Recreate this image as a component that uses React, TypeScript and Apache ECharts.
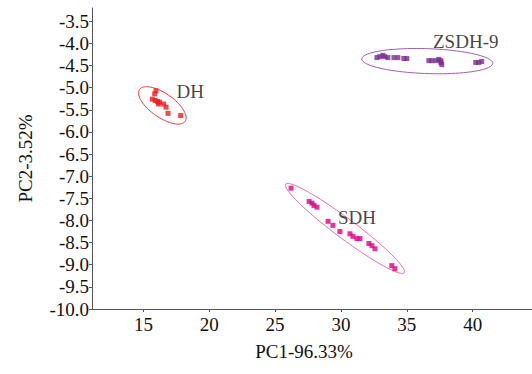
import React, { useEffect, useRef } from "react";
import * as echarts from "echarts";

// PCA scores
const DH_X = [15.96, 15.86, 15.68, 15.89, 16.08, 16.23, 16.14, 16.54, 16.72, 16.87, 17.83];
const DH_Y = [-5.07, -5.14, -5.26, -5.29, -5.31, -5.33, -5.37, -5.37, -5.44, -5.58, -5.63];

const SDH_X = [26.21, 27.58, 27.8, 27.95, 28.18, 29.02, 29.39, 29.92, 30.68, 30.91, 31.21, 31.44, 32.12, 32.35, 32.58, 33.86, 34.09];
const SDH_Y = [-7.27, -7.57, -7.61, -7.66, -7.7, -8.02, -8.11, -8.25, -8.3, -8.36, -8.41, -8.41, -8.52, -8.57, -8.64, -9.02, -9.09];

const ZSDH_X = [32.73, 32.95, 33.18, 33.33, 33.56, 34.02, 34.32, 34.77, 35.0, 36.67, 36.89, 37.2, 37.42, 37.58, 37.58, 37.65, 40.23, 40.45, 40.68];
const ZSDH_Y = [-4.32, -4.3, -4.27, -4.3, -4.32, -4.32, -4.32, -4.34, -4.34, -4.39, -4.39, -4.39, -4.36, -4.39, -4.43, -4.48, -4.43, -4.43, -4.41];

// group ellipses: center x, center y, end of major semi-axis x, y, minor/major ratio
const DH_ELLIPSE = [16.44, -5.4, 18.17, -5.76, 0.43];
const SDH_ELLIPSE = [30.3, -8.18, 34.8, -9.18, 0.135];
const ZSDH_ELLIPSE = [36.55, -4.4, 41.52, -4.45, 0.19];

const GROUP_NAMES = ["DH", "SDH", "ZSDH-9"];
const LABEL_X = [18.56, 31.21, 39.47];
const LABEL_Y = [-5.09, -7.93, -3.95];

const X_TICKS = [15, 20, 25, 30, 35, 40];
const Y_TICKS = [-10, -9.5, -9, -8.5, -8, -7.5, -7, -6.5, -6, -5.5, -5, -4.5, -4, -3.5];

const FONT = "'Liberation Serif', 'Times New Roman', serif";

const zip = (xs: number[], ys: number[]) => xs.map((x, i) => [x, ys[i]]);

function ellipseSeries(e: number[], color: string) {
  return {
    type: "custom",
    silent: true,
    z: 1,
    encode: { x: [0, 2], y: [1, 3] },
    data: [e],
    renderItem: (_p: any, api: any) => {
      const c = api.coord([api.value(0), api.value(1)]);
      const en = api.coord([api.value(2), api.value(3)]);
      const ratio = api.value(4);
      const dx = en[0] - c[0];
      const dy = en[1] - c[1];
      const a = Math.hypot(dx, dy);
      const ux = dx / a;
      const uy = dy / a;
      const b = a * ratio;
      const pts: number[][] = [];
      const n = 90;
      for (let i = 0; i < n; i++) {
        const t = (i / n) * Math.PI * 2;
        const ca = Math.cos(t) * a;
        const sb = Math.sin(t) * b;
        pts.push([c[0] + ux * ca - uy * sb, c[1] + uy * ca + ux * sb]);
      }
      return {
        type: "polygon",
        shape: { points: pts },
        style: { fill: "none", stroke: color, lineWidth: 1 },
      };
    },
  };
}

function pointSeries(xs: number[], ys: number[], color: string) {
  return {
    type: "scatter",
    symbol: "rect",
    symbolSize: 5,
    z: 3,
    itemStyle: { color },
    data: zip(xs, ys),
  };
}

export default function App() {
  const ref = useRef<HTMLDivElement>(null);
  useEffect(() => {
    if (!ref.current) return;
    const chart = echarts.init(ref.current, null, { renderer: "svg" });
    chart.setOption({
      animation: false,
      backgroundColor: "#ffffff",
      grid: { left: 92, right: 0, top: 8, bottom: 65 },
      xAxis: {
        type: "value",
        min: 11.1,
        max: 44.5,
        name: "PC1-96.33%",
        nameLocation: "middle",
        nameGap: 33,
        nameTextStyle: { fontFamily: FONT, fontSize: 19, color: "#111", padding: [0, 16, 0, 0] },
        splitLine: { show: false },
        axisLine: { lineStyle: { color: "#555", width: 1 } },
        axisTick: { customValues: X_TICKS, length: 3, lineStyle: { color: "#555" } },
        axisLabel: {
          customValues: X_TICKS,
          margin: 6,
          fontFamily: FONT,
          fontSize: 19,
          color: "#111",
        },
      },
      yAxis: {
        type: "value",
        min: -10,
        max: -3.2,
        name: "PC2-3.52%",
        nameLocation: "middle",
        nameGap: 57,
        nameTextStyle: { fontFamily: FONT, fontSize: 19, color: "#111" },
        splitLine: { show: false },
        axisLine: { show: true, lineStyle: { color: "#555", width: 1 } },
        axisTick: { show: true, customValues: Y_TICKS, length: 3, lineStyle: { color: "#555" } },
        axisLabel: {
          customValues: Y_TICKS,
          margin: 3,
          fontFamily: FONT,
          fontSize: 19,
          color: "#111",
          formatter: (v: number) => v.toFixed(1),
        },
      },
      series: [
        ellipseSeries(DH_ELLIPSE, "#f0393c"),
        ellipseSeries(SDH_ELLIPSE, "#ea6fb4"),
        ellipseSeries(ZSDH_ELLIPSE, "#a45cb4"),
        pointSeries(DH_X, DH_Y, "#ee1c25"),
        pointSeries(SDH_X, SDH_Y, "#e4007f"),
        pointSeries(ZSDH_X, ZSDH_Y, "#7a2b8f"),
        {
          type: "scatter",
          symbolSize: 0,
          silent: true,
          data: GROUP_NAMES.map((n, i) => ({ name: n, value: [LABEL_X[i], LABEL_Y[i]] })),
          label: {
            show: true,
            position: "inside",
            formatter: (p: any) => p.name,
            fontFamily: FONT,
            fontSize: 19,
            color: "#111",
          },
        },
      ],
    });
    return () => chart.dispose();
  }, []);
  return (
    <div
      ref={ref}
      style={{ position: "fixed", left: 0, top: 0, width: 532, height: 374, background: "#fff" }}
    />
  );
}
